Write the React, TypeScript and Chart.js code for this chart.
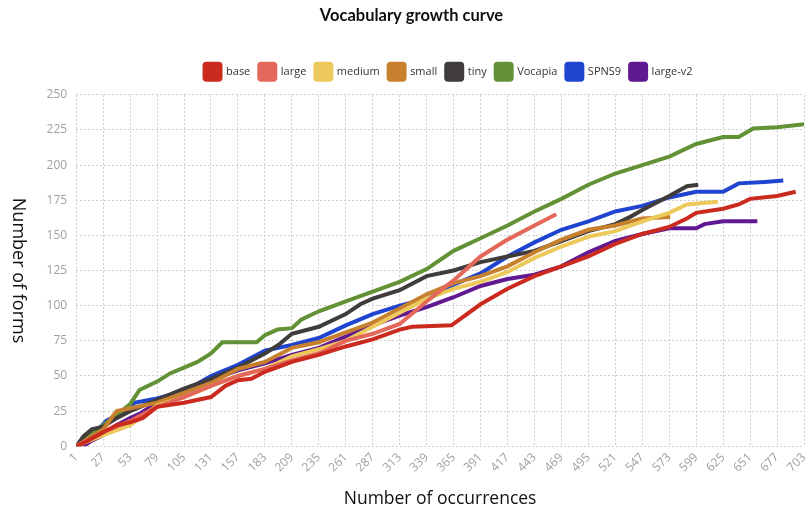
import React, { useEffect, useRef } from "react";
import { Chart, registerables } from "chart.js";

Chart.register(...registerables);

const X_TICKS = [1, 27, 53, 79, 105, 131, 157, 183, 209, 235, 261, 287, 313, 339, 365, 391, 417, 443, 469, 495, 521, 547, 573, 599, 625, 651, 677, 703];
const Y_MIN = 0;
const Y_MAX = 250;
const Y_STEP = 25;

const TITLE = "Vocabulary growth curve";
const X_TITLE = "Number of occurrences";
const Y_TITLE = "Number of forms";

const SERIES_NAMES = ["base", "large", "medium", "small", "tiny", "Vocapia", "SPNS9", "large-v2"];

const base: [number, number][] = [
  [1, 0], [10, 3], [27, 10], [40, 15], [53, 17], [65, 20], [79, 28], [105, 31], [131, 35], [145, 43], [157, 47], [170, 48],
  [183, 53], [209, 60], [235, 65], [261, 71], [287, 76], [313, 83], [325, 85], [363, 86], [391, 101], [417, 112],
  [443, 121], [469, 128], [495, 135], [521, 144], [547, 151], [573, 156], [590, 162], [599, 166], [625, 169],
  [640, 172], [651, 176], [677, 178], [695, 181],
];
const large: [number, number][] = [
  [1, 0], [27, 10], [53, 18], [79, 28], [105, 35], [131, 43], [157, 50], [183, 55], [209, 61], [235, 66],
  [261, 75], [287, 80], [313, 87], [339, 103], [365, 118], [391, 135], [417, 147], [443, 157], [464, 165],
];
const medium: [number, number][] = [
  [1, 0], [27, 8], [53, 15], [79, 29], [105, 35], [131, 43], [157, 50], [183, 55], [209, 64], [235, 69],
  [261, 75], [287, 85], [313, 95], [339, 105], [365, 112], [391, 117], [417, 124], [443, 134], [469, 142],
  [495, 149], [521, 153], [547, 160], [573, 166], [590, 172], [620, 174],
];
const small: [number, number][] = [
  [1, 0], [27, 12], [40, 25], [53, 27], [79, 31], [105, 38], [131, 45], [157, 55], [183, 60], [209, 70],
  [235, 74], [261, 81], [287, 88], [313, 98], [339, 108], [365, 116], [391, 121], [417, 128], [443, 138],
  [469, 147], [495, 154], [521, 157], [547, 162], [574, 163],
];
const tiny: [number, number][] = [
  [1, 0], [8, 7], [16, 12], [27, 14], [40, 20], [53, 25], [79, 33], [105, 41], [131, 48], [157, 56], [183, 66],
  [196, 72], [209, 80], [235, 85], [261, 94], [275, 101], [287, 105], [313, 111], [339, 121], [365, 125],
  [391, 131], [417, 135], [443, 139], [469, 146], [495, 153], [521, 158], [535, 163], [547, 168], [573, 178],
  [590, 185], [601, 186],
];
const vocapia: [number, number][] = [
  [1, 0], [14, 8], [27, 15], [40, 22], [53, 30], [62, 40], [79, 46], [92, 52], [105, 56], [118, 60], [131, 66],
  [142, 74], [175, 74], [183, 79], [195, 83], [209, 84], [218, 90], [235, 96], [261, 103], [287, 110], [313, 117],
  [339, 126], [365, 139], [391, 148], [417, 157], [443, 167], [469, 176], [495, 186], [521, 194], [547, 200],
  [573, 206], [599, 215], [625, 220], [640, 220], [654, 226], [677, 227], [703, 229],
];
const spns9: [number, number][] = [
  [1, 0], [10, 4], [20, 10], [30, 18], [45, 24], [53, 26], [57, 31], [79, 34], [105, 39], [131, 50], [157, 58],
  [183, 68], [209, 72], [235, 77], [261, 86], [287, 94], [313, 100], [339, 105], [365, 115], [391, 123],
  [417, 135], [443, 145], [469, 154], [495, 160], [521, 167], [547, 171], [573, 177], [599, 181], [625, 181],
  [640, 187], [665, 188], [683, 189],
];
const largeV2: [number, number][] = [
  [1, 0], [10, 1], [16, 4], [27, 8], [40, 15], [53, 20], [62, 23], [79, 31], [105, 37], [131, 47], [157, 54],
  [183, 59], [209, 65], [235, 70], [261, 78], [287, 86], [313, 93], [339, 99], [365, 106], [391, 114],
  [417, 119], [443, 122], [469, 128], [495, 138], [521, 146], [547, 151], [573, 155], [599, 155], [607, 158],
  [625, 160], [658, 160],
];

const SERIES_DATA = [base, large, medium, small, tiny, vocapia, spns9, largeV2];
const COLORS = ["#cb2a1f", "#e4685a", "#edc85b", "#c7802d", "#403c3c", "#629235", "#1f44cf", "#601990"];

const layoutTweaks = {
  id: "layoutTweaks",
  beforeLayout(chart: any) {
    const lg = chart.legend;
    if (lg && !lg._patchedFit) {
      const orig = lg.fit;
      lg.fit = function () {
        orig.call(this);
        this.height += 5;
      };
      lg._patchedFit = true;
    }
  },
  afterLayout(chart: any) {
    if (chart.legend) {
      chart.legend.left += 43;
      chart.legend.right += 43;
    }
    if (chart.titleBlock) {
      chart.titleBlock.left += 6;
      chart.titleBlock.right += 6;
    }
  },
  afterDraw(chart: any) {
    const { ctx, chartArea } = chart;
    ctx.save();
    ctx.translate(18, (chartArea.top + chartArea.bottom) / 2);
    ctx.rotate(Math.PI / 2);
    ctx.font = '18px "Open Sans"';
    ctx.fillStyle = "#111";
    ctx.textAlign = "center";
    ctx.textBaseline = "middle";
    ctx.fillText(Y_TITLE, 0, 0);
    ctx.restore();
  },
};

export default function App() {
  const ref = useRef<HTMLCanvasElement | null>(null);

  useEffect(() => {
    document.body.style.margin = "0";
    if (!ref.current) return;
    const chart = new Chart(ref.current, {
      type: "line",
      data: {
        datasets: SERIES_NAMES.map((name, i) => ({
          label: name,
          data: SERIES_DATA[i].map(([x, y]) => ({ x, y })),
          borderColor: COLORS[i],
          backgroundColor: COLORS[i],
          borderWidth: 4,
          pointRadius: 0,
          pointHoverRadius: 0,
          tension: 0,
          fill: false,
        })),
      },
      options: {
        animation: false,
        responsive: true,
        maintainAspectRatio: false,
        layout: { padding: { left: 0, right: 0, top: 0, bottom: 0 } },
        plugins: {
          title: {
            display: true,
            text: TITLE,
            color: "#111",
            font: { family: "Lato", size: 16.5, weight: "bold" },
            padding: { top: 6, bottom: 29 },
          },
          legend: {
            display: true,
            labels: {
              boxWidth: 16,
              boxHeight: 16,
              color: "#333",
              font: { family: "Open Sans", size: 11 },
              padding: 9,
              useBorderRadius: true,
              borderRadius: 2,
            },
          },
          tooltip: { enabled: false },
        },
        scales: {
          x: {
            type: "linear",
            min: X_TICKS[0],
            max: X_TICKS[X_TICKS.length - 1],
            afterBuildTicks: (axis: any) => {
              axis.ticks = X_TICKS.map((v) => ({ value: v }));
            },
            afterFit: (axis: any) => {
              axis.paddingRight = 7;
            },
            ticks: {
              autoSkip: false,
              maxRotation: 45,
              minRotation: 45,
              color: "#a0a0a0",
              font: { family: "Open Sans", size: 12 },
              padding: 4,
            },
            grid: { color: "#cfcfcf", drawTicks: false, lineWidth: 1 },
            border: { display: false, dash: [2, 2] },
            title: {
              display: true,
              text: X_TITLE,
              color: "#111",
              font: { family: "Open Sans", size: 17.5 },
              padding: { top: 10, bottom: 4 },
            },
          },
          y: {
            min: Y_MIN,
            max: Y_MAX,
            ticks: {
              stepSize: Y_STEP,
              color: "#a0a0a0",
              font: { family: "Open Sans", size: 12 },
              padding: 9,
            },
            grid: { color: "#cfcfcf", drawTicks: false, lineWidth: 1 },
            border: { display: false, dash: [2, 2] },
            title: {
              display: true,
              text: Y_TITLE,
              color: "rgba(0,0,0,0)",
              font: { family: "Open Sans", size: 18 },
              padding: { top: 4, bottom: 12 },
            },
          },
        },
      },
      plugins: [layoutTweaks],
    });
    return () => chart.destroy();
  }, []);

  return (
    <div style={{ position: "relative", width: 811, height: 514 }}>
      <canvas ref={ref} />
    </div>
  );
}
